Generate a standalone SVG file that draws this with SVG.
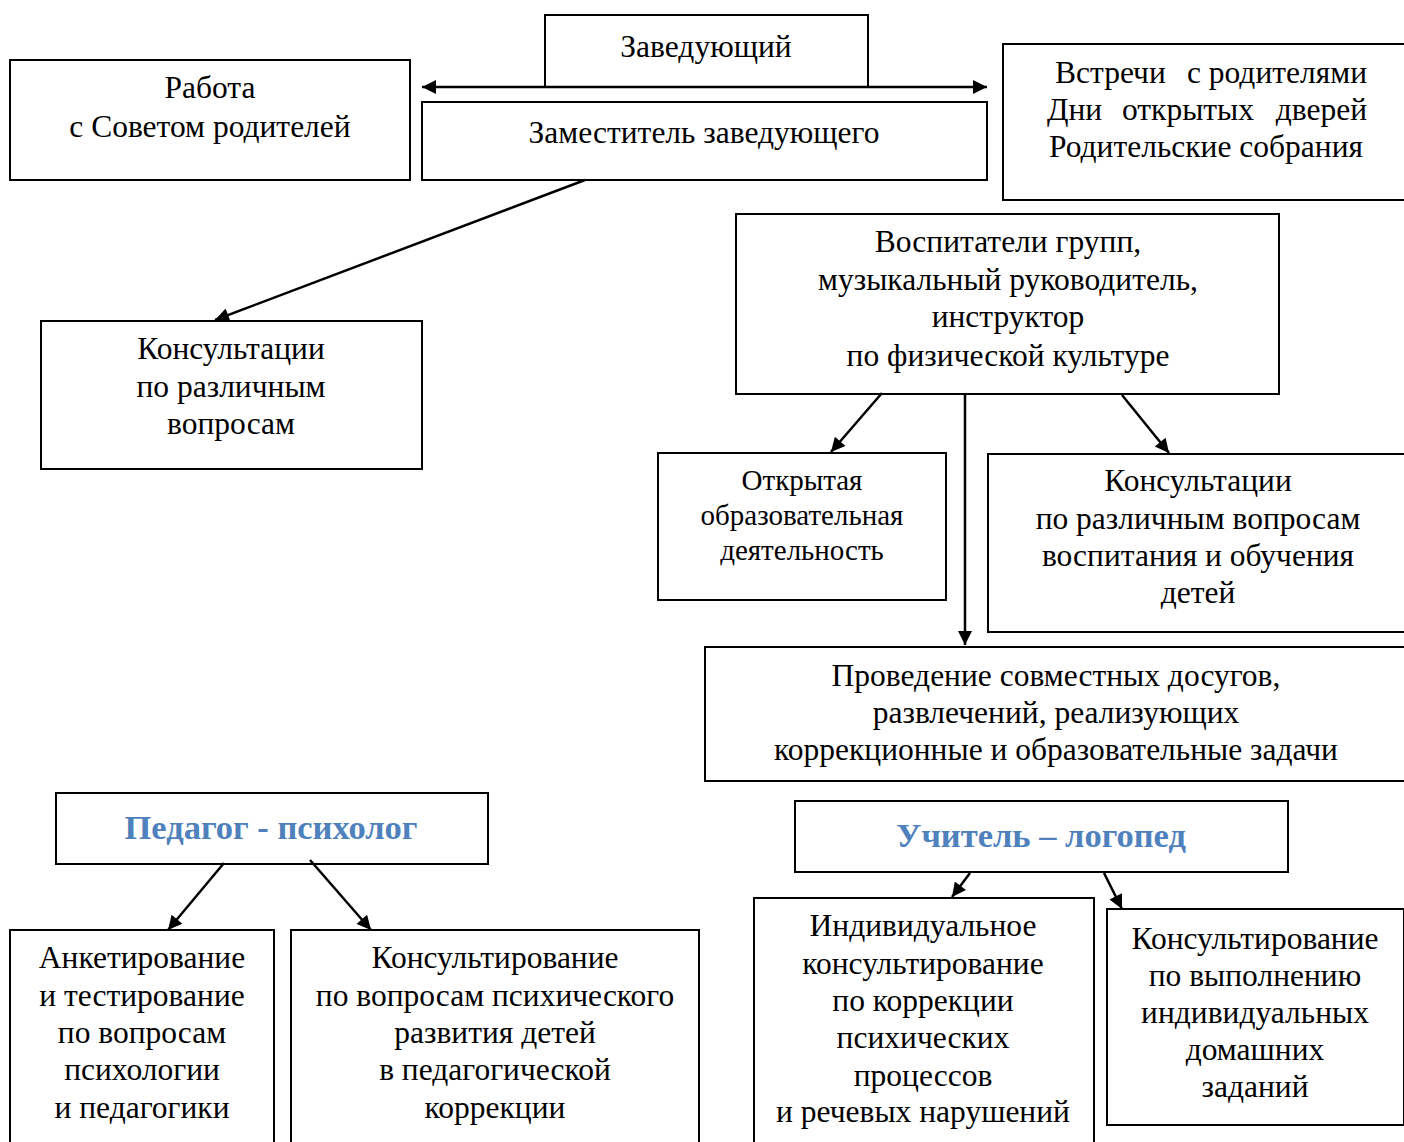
<svg xmlns="http://www.w3.org/2000/svg" width="1404" height="1142" viewBox="0 0 1404 1142">
<defs>
<marker id="ah2" viewBox="0 0 10 10" refX="10" refY="5" markerWidth="16" markerHeight="14" markerUnits="userSpaceOnUse" orient="auto-start-reverse">
<path d="M0,0 L10,5 L0,10 z" fill="#000"/>
</marker>
<style>
rect{fill:#fff;stroke:#000;stroke-width:2}
text{font-family:"Liberation Serif","Times New Roman",serif;font-size:31.5px;fill:#000;text-anchor:middle}
.sm{font-size:29px}
.hd{font-weight:bold;fill:#4F81BD;font-size:34.5px}
.st{text-anchor:start}
.en{text-anchor:end}
.c line{stroke:#000;stroke-width:2.5;marker-end:url(#ah2)}
</style>
</defs>
<g id="zav"><rect x="545" y="15" width="323" height="72"/><text x="706" y="57">Заведующий</text></g>
<g id="rabota"><rect x="10" y="60" width="400" height="120"/><text x="210" y="98">Работа</text><text x="210" y="137">с Советом родителей</text></g>
<g id="zam"><rect x="422" y="102" width="565" height="78"/><text x="704" y="143">Заместитель заведующего</text></g>
<g id="vstrechi"><rect x="1003" y="44" width="410" height="156"/>
<text class="st" x="1055" y="83">Встречи</text><text class="st" x="1187" y="83">с</text><text class="en" x="1367" y="83">родителями</text>
<text class="st" x="1047" y="120">Дни</text><text class="st" x="1122" y="120">открытых</text><text class="en" x="1367" y="120">дверей</text>
<text x="1206" y="157">Родительские собрания</text></g>
<g id="kons1"><rect x="41" y="321" width="381" height="148"/><text x="231" y="359">Консультации</text><text x="231" y="397">по различным</text><text x="231" y="434">вопросам</text></g>
<g id="vosp"><rect x="736" y="214" width="543" height="180"/><text x="1008" y="252">Воспитатели групп,</text><text x="1008" y="290">музыкальный руководитель,</text><text x="1008" y="327">инструктор</text><text x="1008" y="366">по физической культуре</text></g>
<g id="otkr"><rect x="658" y="453" width="288" height="147"/><text class="sm" x="802" y="490">Открытая</text><text class="sm" x="802" y="525">образовательная</text><text class="sm" x="802" y="560">деятельность</text></g>
<g id="kons2"><rect x="988" y="454" width="425" height="178"/><text x="1198" y="491">Консультации</text><text x="1198" y="529">по различным вопросам</text><text x="1198" y="566">воспитания и обучения</text><text x="1198" y="603">детей</text></g>
<g id="prov"><rect x="705" y="647" width="708" height="134"/><text x="1056" y="686">Проведение совместных досугов,</text><text x="1056" y="723">развлечений, реализующих</text><text x="1056" y="760">коррекционные и образовательные задачи</text></g>
<g id="psih"><rect x="56" y="793" width="432" height="71"/><text class="hd" x="271" y="839">Педагог - психолог</text></g>
<g id="anket"><rect x="10" y="930" width="264" height="220"/><text x="142" y="968">Анкетирование</text><text x="142" y="1006">и тестирование</text><text x="142" y="1043">по вопросам</text><text x="142" y="1080">психологии</text><text x="142" y="1118">и педагогики</text></g>
<g id="konsPs"><rect x="291" y="930" width="408" height="220"/><text x="495" y="968">Консультирование</text><text x="495" y="1006">по вопросам психического</text><text x="495" y="1043">развития детей</text><text x="495" y="1080">в педагогической</text><text x="495" y="1118">коррекции</text></g>
<g id="logo"><rect x="795" y="801" width="493" height="71"/><text class="hd" x="1041" y="847">Учитель – логопед</text></g>
<g id="indiv"><rect x="754" y="898" width="340" height="252"/><text x="923" y="936">Индивидуальное</text><text x="923" y="974">консультирование</text><text x="923" y="1011">по коррекции</text><text x="923" y="1048">психических</text><text x="923" y="1086">процессов</text><text x="923" y="1122">и речевых нарушений</text></g>
<g id="konsLog"><rect x="1107" y="909" width="297" height="216"/><text x="1255" y="949">Консультирование</text><text x="1255" y="986">по выполнению</text><text x="1255" y="1023">индивидуальных</text><text x="1255" y="1060">домашних</text><text x="1255" y="1097">заданий</text></g>
<g class="c" id="connectors">
<line x1="422" y1="87" x2="987" y2="87" style="marker-start:url(#ah2)"/>
<line x1="585" y1="180" x2="215" y2="320"/>
<line x1="882" y1="393" x2="831" y2="452"/>
<line x1="965" y1="393" x2="965" y2="645"/>
<line x1="1122" y1="395" x2="1169" y2="453"/>
<line x1="224" y1="863" x2="168" y2="930"/>
<line x1="310" y1="860" x2="371" y2="930"/>
<line x1="970" y1="873" x2="952" y2="897"/>
<line x1="1104" y1="873" x2="1122" y2="909"/>
</g>
</svg>
